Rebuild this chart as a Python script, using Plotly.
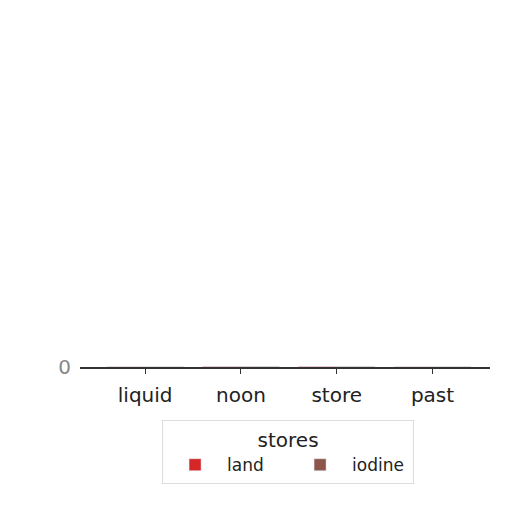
import plotly.graph_objects as go

categories = ["liquid", "noon", "store", "past"]
land = [0.2, 0.5, 0.4, 0.3]
iodine = [0.3, 0.4, 0.5, 0.2]

fig = go.Figure()
fig.add_trace(go.Bar(x=categories, y=land, name="land", marker_color="#d62728"))
fig.add_trace(go.Bar(x=categories, y=iodine, name="iodine", marker_color="#8c564b"))

fig.update_layout(
    width=512, height=512,
    barmode="group",
    paper_bgcolor="white", plot_bgcolor="white",
    margin=dict(l=72, r=30, t=12, b=153, autoexpand=False),
    font=dict(family="DejaVu Sans", size=17, color="#222222"),
    legend=dict(
        orientation="h", xref="container", yref="container",
        x=0.547, xanchor="center", y=0.195, yanchor="top",
        bordercolor="#dddddd", borderwidth=1, itemwidth=54,
        entrywidth=56,
        title=dict(text="stores", side="top center"),
        font=dict(size=17),
    ),
)
fig.update_xaxes(
    range=[-0.68, 3.6], showline=True, linecolor="#333333", linewidth=1.5,
    ticks="outside", ticklen=5, tickcolor="#333333", tickfont=dict(size=20),
    ticklabelstandoff=4, showgrid=False, automargin=False,
)
fig.update_yaxes(
    domain=[0, 0.03], range=[0, 10], tickvals=[0], showgrid=False,
    zeroline=False, showline=False, tickfont=dict(size=20, color="#888888"),
    ticklabelstandoff=8, automargin=False,
)

fig.write_html("out.html")
